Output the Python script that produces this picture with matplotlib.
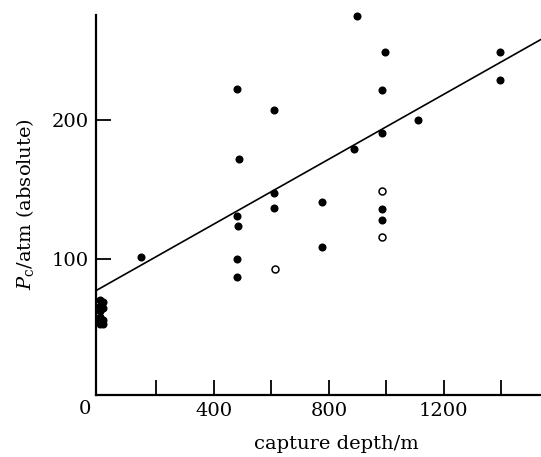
import matplotlib
matplotlib.use("Agg")
import matplotlib.pyplot as plt
import matplotlib.transforms as mtransforms

plt.rcParams['font.family'] = ['DejaVu Serif']
plt.rcParams['mathtext.fontset'] = 'custom'
plt.rcParams['mathtext.rm'] = 'DejaVu Serif'
plt.rcParams['mathtext.it'] = 'DejaVu Serif:italic'

# filled circles: capture depth (m) and critical pressure (atm absolute)
depth_filled = [2, 13, 2, 13, 2, 2, 13, 2, 13, 2,
                147, 482, 487, 482, 485, 482, 482,
                610, 610, 610, 777, 777, 897, 889,
                984, 984, 985, 985, 994, 1110, 1394, 1394]
p_filled = [70, 68.5, 66, 64.5, 62, 58, 56, 55, 53, 53,
            101, 222.6, 172, 130.6, 123.6, 99.7, 86.5,
            207.3, 147.4, 136.6, 141.2, 108.4, 275.2, 179,
            221.7, 190.8, 136.2, 127.7, 249.2, 200.5, 249.4, 228.7]
# open circles
depth_open = [612, 985, 985]
p_open = [92.5, 149.1, 115.6]

# regression line
fit_intercept = 78.1
fit_slope = 0.1172
line_x = [-12, 1540]

x_ticks = [200, 400, 600, 800, 1000, 1200, 1400]
x_ticklabels = ['', '400', '', '800', '', '1200', '']
y_ticks = [100, 200]
y_ticklabels = ['100', '200']

W, H = 541, 457
fig = plt.figure(figsize=(W / 100, H / 100), dpi=100)
ax = fig.add_axes([95.5 / W, (H - 395) / H, (W - 95.5) / W, (395 - 15) / H])

ax.plot(line_x, [fit_intercept + fit_slope * x for x in line_x],
        color='black', lw=1.2, solid_capstyle='butt')
ax.plot(depth_filled, p_filled, 'o', color='black', ms=5.8, mew=0, clip_on=False)
ax.plot(depth_open, p_open, 'o', mfc='white', mec='black', ms=5.0, mew=1.1, clip_on=False)

ax.set_xlim(-12, 1538)
ax.set_ylim(1.5, 276)

for s in ['top', 'right']:
    ax.spines[s].set_visible(False)
for s in ['left', 'bottom']:
    ax.spines[s].set_linewidth(1.6)

ax.set_xticks(x_ticks)
ax.set_xticklabels(x_ticklabels)
ax.set_yticks(y_ticks)
ax.set_yticklabels(y_ticklabels)
ax.tick_params(direction='in', length=11, width=1.3, labelsize=14, pad=5)

trans = mtransforms.blended_transform_factory(ax.transData, ax.transAxes)
ax.text(-48, -0.0135, '0', transform=trans, ha='center', va='top', fontsize=14)

ax.set_xlabel('capture depth/m', fontsize=14)
ax.xaxis.set_label_coords(0.54, -0.105)
ax.set_ylabel(r'$P_{\mathrm{c}}$/atm (absolute)', fontsize=14)
ax.yaxis.set_label_coords(-0.134, 0.503)

fig.savefig('out.png', dpi=100)
